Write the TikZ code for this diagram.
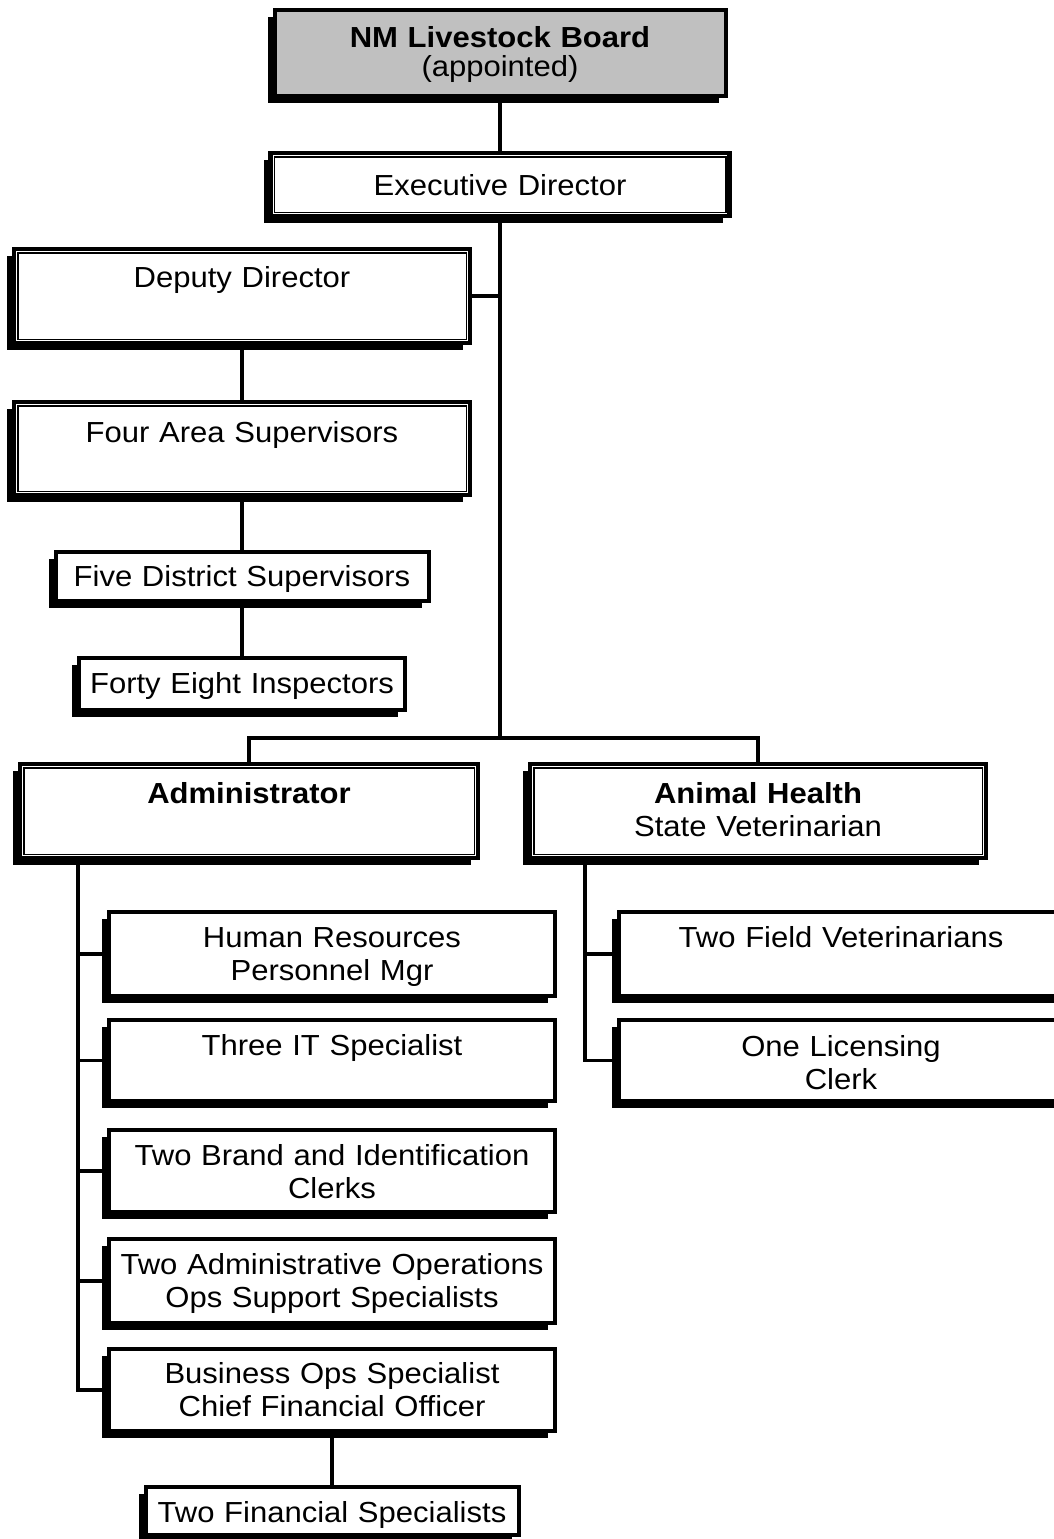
\documentclass[tikz,border=0pt]{standalone}
\usepackage{fontspec}
\setmainfont[FakeStretch=1.07]{Liberation Sans}
\usetikzlibrary{shadows}
\begin{document}
\begin{tikzpicture}[x=1pt,y=-1pt,
  conn/.style={line width=3.5pt},
  shad/.style={drop shadow={shadow xshift=-7pt,shadow yshift=-7pt,opacity=1,fill=black}},
  bxa/.style={draw,line width=4.5pt,fill=white,inner sep=0pt,shad},
  bxb/.style={draw,line width=4pt,fill=white,inner sep=0pt,shad},
  inner/.style={line width=1.5pt},
  txt/.style={inner sep=0pt,text width=440pt,align=center,anchor=base,
    font={\fontsize{29}{33}\selectfont}}
]
\fill[white] (0,0) rectangle (1053,1539);
\useasboundingbox (0,0) rectangle (1053,1539);

% boxes
\node[bxb,fill={rgb,255:red,192;green,192;blue,192},minimum width=451pt,minimum height=86pt] (board) at (500,53) {};
\node[bxa,minimum width=459pt,minimum height=63pt] (exec) at (500,184.5) {};
\node[bxa,minimum width=456pt,minimum height=94pt] (dep) at (242,296) {};
\node[bxa,minimum width=456pt,minimum height=93pt] (four) at (242,448.5) {};
\node[bxb,minimum width=373pt,minimum height=49pt] (five) at (242,576.5) {};
\node[bxb,minimum width=326pt,minimum height=52pt] (forty) at (242,684) {};
\node[bxa,minimum width=458pt,minimum height=94pt] (admin) at (249,811) {};
\node[bxa,minimum width=456pt,minimum height=94pt] (anim) at (758,811) {};
\node[bxb,minimum width=446pt,minimum height=84pt] (hr) at (332,954) {};
\node[bxb,minimum width=446pt,minimum height=81pt] (it) at (332,1060.5) {};
\node[bxb,minimum width=446pt,minimum height=82pt] (brand) at (332,1171) {};
\node[bxb,minimum width=446pt,minimum height=84pt] (aops) at (332,1281) {};
\node[bxb,minimum width=446pt,minimum height=82pt] (bops) at (332,1390) {};
\node[bxb,minimum width=373pt,minimum height=48pt] (fin) at (332,1511) {};
\node[bxb,minimum width=444pt,minimum height=84pt] (fv) at (841,954) {};
\node[bxb,minimum width=444pt,minimum height=81pt] (lic) at (841,1060.5) {};

% inner thin frames of the double-bordered boxes
\foreach \n in {exec,dep,four,admin,anim}
  \draw[inner] ([shift={(6pt,6pt)}]\n.south west) rectangle ([shift={(-6pt,-6pt)}]\n.north east);

% texts
\node[txt,font={\fontsize{29}{29}\selectfont}] (board-t) at (500,47) {\textbf{NM Livestock Board}\\(appointed)};
\node[txt] (exec-t) at (500,195) {Executive Director};
\node[txt] (dep-t) at (242,287) {Deputy Director};
\node[txt] (four-t) at (242,442) {Four Area Supervisors};
\node[txt] (five-t) at (242,586) {Five District Supervisors};
\node[txt] (forty-t) at (242,693) {Forty Eight Inspectors};
\node[txt] (admin-t) at (249,803) {\textbf{Administrator}};
\node[txt] (anim-t) at (758,803) {\textbf{Animal Health}\\State Veterinarian};
\node[txt] (hr-t) at (332,947) {Human Resources\\Personnel Mgr};
\node[txt] (it-t) at (332,1055) {Three IT Specialist};
\node[txt] (brand-t) at (332,1165) {Two Brand and Identification\\Clerks};
\node[txt] (aops-t) at (332,1274) {Two Administrative Operations\\Ops Support Specialists};
\node[txt] (bops-t) at (332,1383) {Business Ops Specialist\\Chief Financial Officer};
\node[txt] (fin-t) at (332,1522) {Two Financial Specialists};
\node[txt] (fv-t) at (841,947) {Two Field Veterinarians};
\node[txt] (lic-t) at (841,1056) {One Licensing\\Clerk};

% connectors
\coordinate (j1) at (500,738);
\coordinate (abus) at (78,0);
\coordinate (hbus) at (585,0);
\draw[conn] (board.south) -- (exec.north);
\draw[conn] (exec.south) -- (j1);
\draw[conn] (admin.north) |- (j1) -| (anim.north);
\draw[conn] (dep.east) -- (dep.east -| j1);
\draw[conn] (dep.south) -- (four.north);
\draw[conn] (four.south) -- (five.north);
\draw[conn] (five.south) -- (forty.north);
\draw[conn] (admin.south -| abus) |- (bops.west);
\foreach \n in {hr,it,brand,aops}
  \draw[conn] (\n.west) -- (\n.west -| abus);
\draw[conn] (bops.south) -- (fin.north);
\draw[conn] (anim.south -| hbus) |- (lic.west);
\draw[conn] (fv.west) -- (fv.west -| hbus);
\end{tikzpicture}
\end{document}
